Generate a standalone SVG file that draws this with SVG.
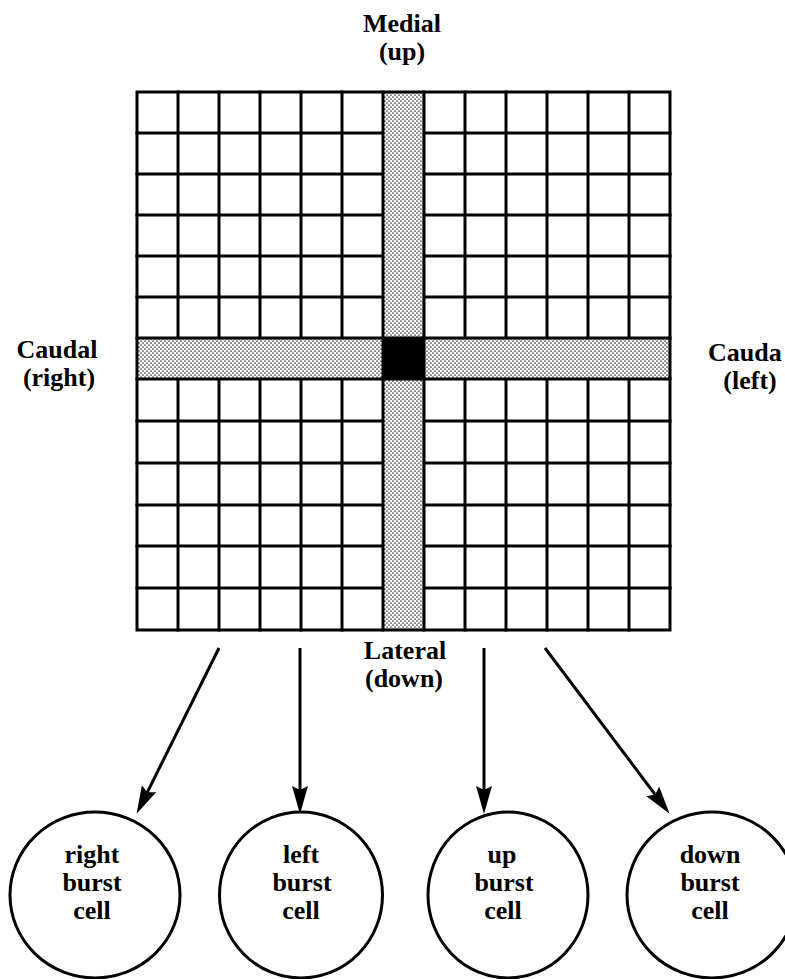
<svg xmlns="http://www.w3.org/2000/svg" width="785" height="979" viewBox="0 0 785 979">
<style>
.lbl{font-family:"Liberation Serif","Times New Roman",serif;font-weight:bold;font-size:26px;fill:#000;text-anchor:middle}
.ct{font-family:"Liberation Serif","Times New Roman",serif;font-weight:bold;font-size:26px;fill:#000;text-anchor:middle}
.gl{stroke:#000;stroke-width:3;fill:none;stroke-linecap:square}
.cell{fill:#fff;stroke:#000;stroke-width:3}
.conn{stroke:#000;stroke-width:3;fill:none;marker-end:url(#ah)}
</style>
<defs>
<pattern id="dots" patternUnits="userSpaceOnUse" width="4" height="4">
<rect width="4" height="4" fill="#fff"/>
<circle cx="1" cy="1" r="0.85" fill="#333"/>
<circle cx="3" cy="3" r="0.85" fill="#333"/>
</pattern>
<marker id="ah" markerUnits="userSpaceOnUse" markerWidth="32" markerHeight="20" refX="19" refY="8" orient="auto">
<path d="M0,0 L28,8 L0,16 L4,8 z" fill="#000"/>
</marker>
</defs>
<rect width="785" height="979" fill="#fff"/>

<g id="grid">
<rect x="383" y="92" width="41" height="538" fill="url(#dots)"/>
<rect x="137" y="338" width="533" height="41" fill="url(#dots)"/>
<rect x="383" y="338" width="41" height="41" fill="#000"/>
<path class="gl" d="
M137,133H383M424,133H670
M137,174H383M424,174H670
M137,215H383M424,215H670
M137,256H383M424,256H670
M137,297H383M424,297H670
M137,421H383M424,421H670
M137,463H383M424,463H670
M137,505H383M424,505H670
M137,546H383M424,546H670
M137,588H383M424,588H670
M137,338H670M137,379H670
M178,92V338M178,379V630
M219,92V338M219,379V630
M260,92V338M260,379V630
M301,92V338M301,379V630
M342,92V338M342,379V630
M465,92V338M465,379V630
M506,92V338M506,379V630
M547,92V338M547,379V630
M588,92V338M588,379V630
M629,92V338M629,379V630
M383,92V630M424,92V630"/>
<rect class="gl" x="137" y="92" width="533" height="538"/>
</g>

<g id="label-medial">
<text class="lbl" x="402" y="32">Medial<tspan x="402" dy="28">(up)</tspan></text>
</g>
<g id="label-caudal-right">
<text class="lbl" x="57" y="358">Caudal<tspan x="59" dy="28">(right)</tspan></text>
</g>
<g id="label-caudal-left">
<text class="lbl" x="708" y="361" style="text-anchor:start">Cauda<tspan x="750" dy="28" style="text-anchor:middle">(left)</tspan></text>
</g>
<g id="label-lateral">
<text class="lbl" x="405" y="659">Lateral<tspan x="404" dy="28">(down)</tspan></text>
</g>

<g id="connectors">
<line class="conn" x1="219" y1="648" x2="140.6" y2="805.8"/>
<line class="conn" x1="300" y1="648" x2="300" y2="805"/>
<line class="conn" x1="484" y1="648" x2="484" y2="805"/>
<line class="conn" x1="545" y1="648" x2="664.2" y2="806.6"/>
</g>

<g id="right-burst-cell">
<ellipse class="cell" cx="95" cy="895" rx="85" ry="83"/>
<text class="ct" x="92" y="863">right<tspan x="92" dy="28">burst</tspan><tspan x="92" dy="28">cell</tspan></text>
</g>
<g id="left-burst-cell">
<ellipse class="cell" cx="301" cy="895" rx="81.5" ry="83"/>
<text class="ct" x="301" y="863">left<tspan x="302" dy="28">burst</tspan><tspan x="301" dy="28">cell</tspan></text>
</g>
<g id="up-burst-cell">
<ellipse class="cell" cx="508" cy="895" rx="80" ry="83"/>
<text class="ct" x="502" y="863">up<tspan x="504" dy="28">burst</tspan><tspan x="503" dy="28">cell</tspan></text>
</g>
<g id="down-burst-cell">
<ellipse class="cell" cx="712" cy="895" rx="85" ry="83"/>
<text class="ct" x="710" y="863">down<tspan x="710" dy="28">burst</tspan><tspan x="710" dy="28">cell</tspan></text>
</g>
</svg>
